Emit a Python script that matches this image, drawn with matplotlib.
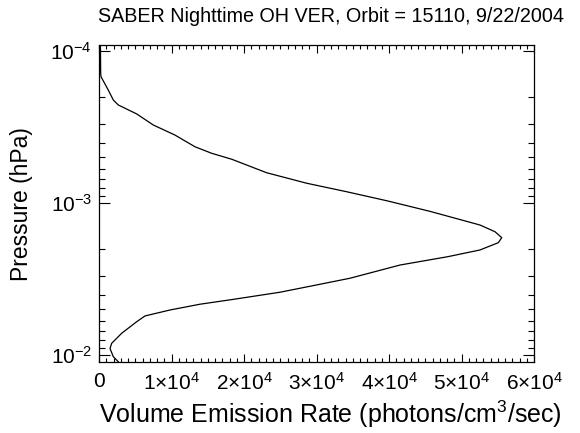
import matplotlib
matplotlib.use("Agg")
import matplotlib.pyplot as plt
from matplotlib.ticker import FixedLocator, MultipleLocator, LogLocator, NullFormatter

plt.rcParams['font.family'] = ['Liberation Sans', 'DejaVu Sans']
plt.rcParams['mathtext.fontset'] = 'custom'
plt.rcParams['mathtext.rm'] = 'Liberation Sans'
plt.rcParams['mathtext.it'] = 'Liberation Sans'
plt.rcParams['mathtext.default'] = 'regular'

# Nighttime OH volume emission rate profile
ver = [200, 230, 280, 1280, 1970, 2660, 5200, 7490, 10480, 13240, 15550,
       18300, 23130, 28650, 34170, 39680, 45660, 52550, 54620, 55550, 55080,
       52550, 48140, 41520, 34620, 30030, 24970, 18520, 13930, 9790, 6350,
       5200, 3130, 2210, 1750, 1520, 1970, 2660]
pressure = [9.12e-5, 1.396e-4, 1.476e-4, 1.807e-4, 2.099e-4, 2.265e-4,
            2.594e-4, 3.069e-4, 3.573e-4, 4.266e-4, 4.710e-4, 5.152e-4,
            6.324e-4, 7.413e-4, 8.433e-4, 9.661e-4, 1.135e-3, 1.396e-3,
            1.545e-3, 1.690e-3, 1.824e-3, 2.037e-3, 2.254e-3, 2.559e-3,
            3.126e-3, 3.459e-3, 3.864e-3, 4.305e-3, 4.634e-3, 5.058e-3,
            5.534e-3, 6.039e-3, 7.194e-3, 7.962e-3, 8.375e-3, 9.057e-3,
            1.026e-2, 1.107e-2]

x_ticks = [0, 10000, 20000, 30000, 40000, 50000, 60000]
x_tick_labels = ['0', '1×10$^{4}$', '2×10$^{4}$', '3×10$^{4}$',
                 '4×10$^{4}$', '5×10$^{4}$', '6×10$^{4}$']
y_ticks = [1e-4, 1e-3, 1e-2]
y_tick_labels = ['10$^{-4}$', '10$^{-3}$', '10$^{-2}$']

fig = plt.figure(figsize=(5.8, 4.33), dpi=100)
ax = fig.add_axes([99/580, 1 - 362/433, 435/580, 317/433])

ax.plot(ver, pressure, color='black', lw=0.9)

ax.set_yscale('log')
ax.set_xlim(0, 60000)
ax.set_ylim(1.112e-2, 9.13e-5)

ax.xaxis.set_major_locator(FixedLocator(x_ticks))
ax.set_xticklabels(x_tick_labels)
ax.xaxis.set_minor_locator(MultipleLocator(1000))
ax.yaxis.set_major_locator(FixedLocator(y_ticks))
ax.set_yticklabels(y_tick_labels)
ax.yaxis.set_minor_locator(LogLocator(base=10, subs=range(2, 10)))
ax.yaxis.set_minor_formatter(NullFormatter())

ax.tick_params(which='both', direction='in', top=True, right=True,
               color='black', labelsize=15)
ax.tick_params(axis='x', which='major', length=6, width=0.8, pad=7)
ax.tick_params(axis='x', which='minor', length=3, width=0.8)
ax.tick_params(axis='y', which='major', length=8, width=0.8, pad=5)
ax.tick_params(axis='y', which='minor', length=4, width=0.8)
for s in ax.spines.values():
    s.set_linewidth(0.9)

fig.text(331/580, 1 - 17/433, 'SABER Nighttime OH VER, Orbit = 15110, 9/22/2004',
         ha='center', va='center', fontsize=14.2)
fig.text(330/580, 1 - 414/433, r'Volume Emission Rate (photons/cm$^{3}$/sec)',
         ha='center', va='center', fontsize=18)
fig.text(22/580, 1 - 204/433, 'Pressure (hPa)', rotation=90,
         ha='center', va='center', fontsize=16.5)

fig.savefig('out.png', dpi=100)
